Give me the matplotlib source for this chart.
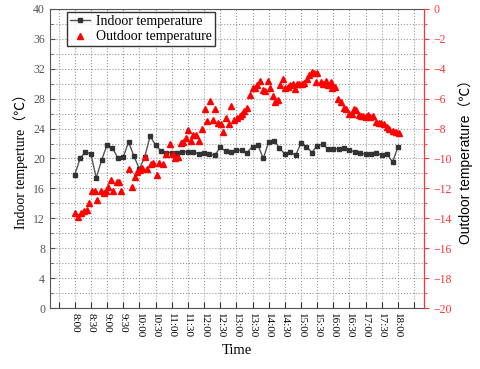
import matplotlib
matplotlib.use("Agg")
import matplotlib.pyplot as plt
import numpy as np
from matplotlib.ticker import MultipleLocator

# indoor temperature, one reading every 10 min from 8:00 to 18:00
indoor_min = list(range(0, 601, 10))
indoor_temp = [17.8, 20.0, 20.9, 20.6, 17.4, 19.8, 21.8, 21.4, 20.1, 20.2,
               22.2, 20.3, 18.6, 20.2, 23.0, 21.8, 21.0, 20.8, 20.8, 20.8,
               20.9, 20.9, 20.9, 20.6, 20.8, 20.6, 20.4, 21.5, 21.0, 20.9,
               21.1, 21.1, 20.8, 21.6, 21.8, 20.0, 22.2, 22.4, 21.4, 20.6,
               20.9, 20.4, 22.1, 21.6, 20.8, 21.7, 21.9, 21.3, 21.3, 21.3,
               21.4, 21.1, 20.9, 20.7, 20.6, 20.6, 20.8, 20.4, 20.6, 19.5,
               21.6]

# outdoor temperature (minutes after 8:00, degC)
outdoor_min = [1, 6, 12, 17, 22, 26, 33, 37, 41, 48, 54, 58, 62, 68, 72, 79, 83, 86,
               100, 106, 111, 116, 122, 125, 131, 135, 141, 145, 153, 157, 163, 170,
               176, 182, 186, 191, 197, 201, 206, 211, 215, 220, 225, 231, 236, 241,
               246, 251, 256, 261, 266, 271, 275, 281, 286, 291, 296, 301, 306, 311,
               315, 320, 325, 330, 335, 339, 344, 349, 353, 359, 363, 368, 372, 377,
               381, 386, 390, 395, 400, 405, 409, 412, 417, 422, 426, 431, 435, 440,
               444, 447, 450, 457, 461, 466, 470, 475, 478, 483, 489, 495, 499, 504,
               509, 515, 519, 523, 528, 532, 536, 540, 544, 549, 554, 560, 565, 569,
               574, 579, 583, 590, 597, 602]
outdoor_temp = [-13.67, -13.9, -13.67, -13.5, -13.45, -12.95, -12.2, -12.15, -12.8,
                -12.15, -12.3, -12.2, -11.9, -11.45, -12.15, -11.55, -11.55, -12.15,
                -10.7, -11.9, -11.25, -10.9, -10.8, -10.65, -9.9, -10.7, -10.4, -10.3,
                -11.1, -10.3, -10.35, -9.7, -9.0, -9.7, -10.0, -9.9, -8.95, -8.9,
                -8.6, -8.1, -8.85, -8.4, -8.4, -8.8, -8.0, -6.7, -7.5, -6.15, -7.4,
                -6.7, -7.6, -7.7, -8.2, -7.3, -7.7, -6.5, -7.4, -7.3, -7.15, -7.0,
                -6.8, -6.6, -5.75, -5.3, -5.3, -5.1, -4.8, -5.4, -5.5, -4.85, -5.3,
                -5.85, -6.2, -6.1, -5.1, -4.7, -5.3, -5.2, -5.1, -5.05, -5.35, -5.0,
                -5.05, -5.05, -4.95, -4.7, -4.45, -4.25, -4.3, -4.9, -4.3, -4.9, -5.0,
                -4.85, -5.1, -4.9, -5.3, -5.2, -6.0, -6.25, -6.65, -6.7, -7.0, -7.0,
                -6.7, -6.75, -7.1, -7.15, -7.15, -7.25, -7.1, -7.25, -7.15, -7.55,
                -7.6, -7.65, -7.7, -7.9, -8.0, -8.15, -8.25, -8.3]

tick_min = list(range(-30, 631, 30))
tick_labels = [""] + ["%d:%02d" % (8 + m // 60, m % 60) for m in range(0, 601, 30)] + [""]

plt.rcParams['font.family'] = ['Liberation Serif', 'Noto Sans CJK SC']

fig = plt.figure(figsize=(4.8, 3.69), dpi=100)
ax = fig.add_axes([0.104, 0.165, 0.779, 0.811])
ax2 = ax.twinx()

l1, = ax.plot(indoor_min, indoor_temp, color='#555555', lw=1.0, marker='s',
              markersize=3.0, markerfacecolor='#333333', markeredgecolor='#333333',
              label='Indoor temperature')
l2, = ax2.plot(outdoor_min, outdoor_temp, ls='none', marker='^', markersize=4.0,
               color='#ff0000', label='Outdoor temperature')

ax.set_xlim(-46, 648)
ax.set_ylim(0, 40)
ax2.set_ylim(-20, 0)

ax.set_xticks(tick_min)
ax.set_xticklabels(tick_labels, rotation=-90, fontsize=8)
ax.yaxis.set_major_locator(MultipleLocator(4))
ax.yaxis.set_minor_locator(MultipleLocator(2))
ax2.yaxis.set_major_locator(MultipleLocator(2))
ax2.yaxis.set_minor_locator(MultipleLocator(1))

ax.grid(True, which='both', color='#999999', ls=':', lw=0.8)
ax.tick_params(axis='y', which='both', direction='in', labelsize=8.5,
               labelcolor='#555555', color='#555555')
ax.tick_params(axis='y', which='minor', length=2)
ax.tick_params(axis='x', direction='in', length=4, color='#333333')
ax2.tick_params(axis='y', which='both', direction='out', colors='#ff3333', labelsize=8.5)
ax2.tick_params(axis='y', which='minor', length=2)

for s in ['left', 'bottom', 'top']:
    ax.spines[s].set_color('#555555')
ax2.spines['right'].set_color('#ff3333')
ax2.spines['left'].set_visible(False)
ax2.spines['top'].set_visible(False)
ax2.spines['bottom'].set_visible(False)

ax.set_xlabel('Time', fontsize=10.5)
ax.set_ylabel('Indoor temperture（℃）', fontsize=10)
ax2.set_ylabel('Outdoor temperature（℃）', fontsize=10,
               family=['Liberation Sans', 'Noto Sans CJK SC'])

leg = ax2.legend(handles=[l1, l2], loc='upper left', bbox_to_anchor=(0.045, 0.99),
                 fontsize=10, frameon=True, fancybox=False, edgecolor='black',
                 handlelength=1.5, borderpad=0.2, labelspacing=0.2, handletextpad=0.4,
                 borderaxespad=0)
leg.get_frame().set_linewidth(1.0)

fig.savefig('out.png', dpi=100)
